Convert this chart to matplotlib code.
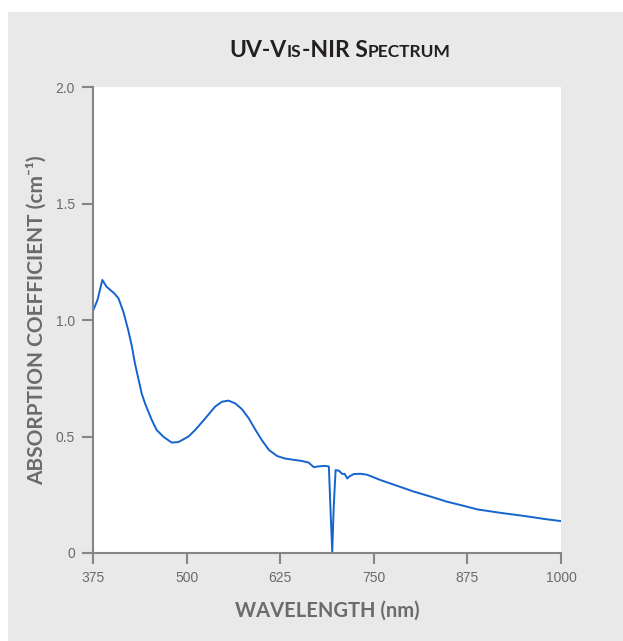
import matplotlib
matplotlib.use("Agg")
import matplotlib.pyplot as plt
from matplotlib.patches import Rectangle

wavelength = [375.5, 381, 387.5, 393, 403.5, 409, 415.5, 422, 427, 431, 436, 440,
              444.5, 449, 453.5, 460, 469, 480, 489, 502.5, 511.5, 525, 538, 547,
              556, 565, 574, 583, 592, 601, 610, 621, 632, 645, 654, 663, 670, 674,
              685, 690, 692, 694.5, 696.5, 699, 703.5, 708, 711, 714.5, 718, 723.5,
              732, 741, 759, 781.5, 804, 826, 848, 870.5, 888.5, 920, 953, 980, 1000]
absorption = [1.043, 1.086, 1.172, 1.143, 1.114, 1.093, 1.036, 0.957, 0.886, 0.814,
              0.742, 0.685, 0.642, 0.606, 0.571, 0.528, 0.499, 0.474, 0.476, 0.50,
              0.528, 0.578, 0.628, 0.649, 0.654, 0.642, 0.617, 0.578, 0.528, 0.482,
              0.442, 0.416, 0.405, 0.399, 0.395, 0.388, 0.368, 0.371, 0.374, 0.371,
              0.20, 0.005, 0.20, 0.356, 0.353, 0.339, 0.340, 0.320, 0.330, 0.339,
              0.340, 0.336, 0.313, 0.288, 0.263, 0.242, 0.220, 0.202, 0.187, 0.172,
              0.158, 0.145, 0.137]

x_ticks = [375, 500, 625, 750, 875, 1000]
y_ticks = [0, 0.5, 1.0, 1.5, 2.0]
y_tick_labels = ["0", "0.5", "1.0", "1.5", "2.0"]

W, H = 623, 641
fig = plt.figure(figsize=(W / 100, H / 100), dpi=100)
fig.patch.set_facecolor("white")
bg = Rectangle((8 / W, 0), 1 - 8 / W, 1 - 12 / H, transform=fig.transFigure,
               facecolor="#e9e9e9", edgecolor="none", zorder=-10)
fig.add_artist(bg)

ax = fig.add_axes([93 / W, (H - 553) / H, (561 - 93) / W, (553 - 87) / H])
ax.set_zorder(1)
ax.set_facecolor("white")
ax.plot(wavelength, absorption, color="#1563cf", lw=1.4)
ax.set_xlim(375, 1000)
ax.set_ylim(0, 2.0)
ax.set_xticks(x_ticks)
ax.set_yticks(y_ticks)
ax.set_yticklabels(y_tick_labels)
for s in ["top", "right"]:
    ax.spines[s].set_visible(False)
for s in ["left", "bottom"]:
    ax.spines[s].set_color("#858585")
    ax.spines[s].set_linewidth(1.5)
ax.tick_params(direction="out", length=8, width=1.5, color="#858585",
               labelcolor="#6b6b6b", labelsize=10, pad=5)
for lab in ax.get_xticklabels() + ax.get_yticklabels():
    lab.set_family("Liberation Sans")

ax.set_xlabel("WAVELENGTH (nm)", family=["Lato", "DejaVu Sans"], fontweight="bold",
              fontsize=14.5, color="#6b6b6b", labelpad=11)
ax.set_ylabel("ABSORPTION COEFFICIENT (cm⁻¹)", family=["Lato", "DejaVu Sans"],
              fontweight="bold", fontsize=15, color="#6b6b6b", labelpad=6)

# small-caps title
pieces = [("UV-V", 16.5), ("IS", 12.5), ("-NIR S", 16.5), ("PECTRUM", 12.5)]
fig.canvas.draw()
renderer = fig.canvas.get_renderer()
texts = []
widths = []
for t, sz in pieces:
    tx = fig.text(0, 0, t, fontsize=sz, family="Lato", fontweight="bold",
                  color="#231f20", ha="left", va="baseline", zorder=5)
    widths.append(tx.get_window_extent(renderer).width)
    texts.append(tx)
total = sum(widths)
cx = 340
x0 = cx - total / 2
base_y = H - 57
for tx, w in zip(texts, widths):
    tx.set_position((x0 / W, base_y / H))
    x0 += w

fig.savefig("out.png", dpi=100, facecolor=fig.get_facecolor())
